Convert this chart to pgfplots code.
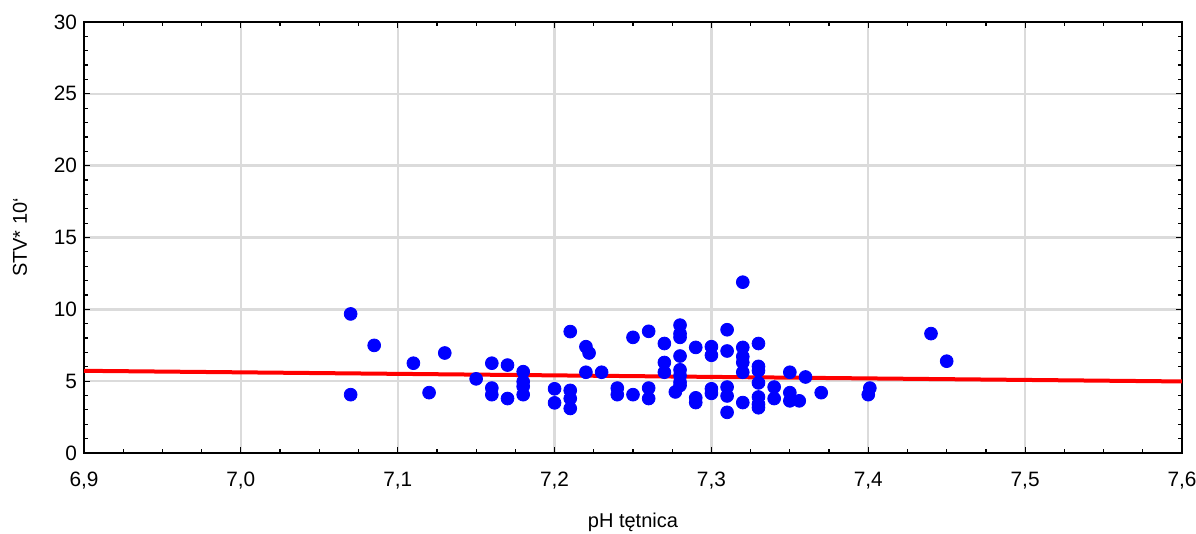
\documentclass[border=0pt]{standalone}
\usepackage{fontspec}
\setmainfont{Liberation Sans}
\usepackage{pgfplots}
\pgfplotsset{compat=1.18}
\begin{document}
\begin{tikzpicture}
\path[use as bounding box] (-42pt,-40.5pt) rectangle (556pt,226.5pt);
\begin{axis}[
  at={(0,0)}, anchor=south west,
  scale only axis,
  width=549pt, height=215.5pt,
  xmin=6.9, xmax=7.6, ymin=0, ymax=30,
  xtick={6.9,7.0,7.1,7.2,7.3,7.4,7.5,7.6},
  ytick={0,5,10,15,20,25,30},
  minor x tick num=3,
  minor y tick num=4,
  tick pos=both, tick align=inside,
  major tick length=3pt, minor tick length=2pt,
  every tick/.style={black, line width=0.6pt},
  axis line style={black, line width=1pt},
  grid=major,
  major grid style={draw=black!14, line width=1.2pt},
  /pgf/number format/assume math mode=true,
  xticklabel style={/pgf/number format/.cd, use comma, fixed, fixed zerofill, precision=1, /tikz/.cd, yshift=-6pt},
  yticklabel style={/pgf/number format/.cd, fixed, precision=0},
  tick label style={font=\fontsize{10.4}{12}\selectfont},
  label style={font=\fontsize{10.5}{12}\selectfont},
  xlabel={pH tętnica},
  ylabel={STV* 10\symbol{96}},
  every axis x label/.style={at={(axis description cs:0.5,-0.160)}, anchor=center},
  every axis y label/.style={at={(axis description cs:-0.0583,0.5)}, anchor=center, rotate=90},
  clip=true,
]
\addplot[only marks, mark=*, mark size=3.2pt, mark options={draw=blue, fill=blue}] coordinates {
(7.07,9.68) (7.07,4.06) (7.085,7.49) (7.11,6.25) (7.12,4.20) (7.13,6.96) (7.15,5.16)
(7.16,6.25) (7.16,4.52) (7.16,4.06)
(7.17,6.12) (7.17,3.79)
(7.18,5.66) (7.18,4.97) (7.18,4.63) (7.18,4.06)
(7.20,4.47) (7.20,3.49)
(7.21,8.45) (7.21,4.36) (7.21,3.79) (7.21,3.10)
(7.22,7.40) (7.222,6.96) (7.22,5.62)
(7.23,5.62)
(7.24,4.52) (7.24,4.06)
(7.25,8.05) (7.25,4.06)
(7.26,8.47) (7.26,4.52) (7.26,3.79)
(7.27,7.62) (7.27,6.30) (7.27,5.62) (7.277,4.25)
(7.28,8.90) (7.28,8.31) (7.28,8.05) (7.28,6.75) (7.28,5.79) (7.28,5.38) (7.28,4.93) (7.28,4.70)
(7.29,7.35) (7.29,3.84) (7.29,3.51)
(7.30,7.40) (7.30,6.80) (7.30,4.47) (7.30,4.15)
(7.31,8.58) (7.31,7.10) (7.31,4.59) (7.31,3.97) (7.31,2.83)
(7.32,11.89) (7.32,7.35) (7.32,6.71) (7.32,6.30) (7.32,5.62) (7.32,3.51)
(7.33,7.62) (7.33,6.03) (7.33,5.73) (7.33,4.88) (7.33,3.90) (7.33,3.40) (7.33,3.15)
(7.34,4.59) (7.34,3.79)
(7.35,5.62) (7.35,4.20) (7.35,3.63)
(7.356,3.63)
(7.36,5.29)
(7.37,4.20)
(7.401,4.52) (7.40,4.06)
(7.44,8.31)
(7.45,6.39)
};
\addplot[red, line width=2pt] coordinates {(6.9,5.72) (7.6,4.98)};
\end{axis}
\end{tikzpicture}
\end{document}
